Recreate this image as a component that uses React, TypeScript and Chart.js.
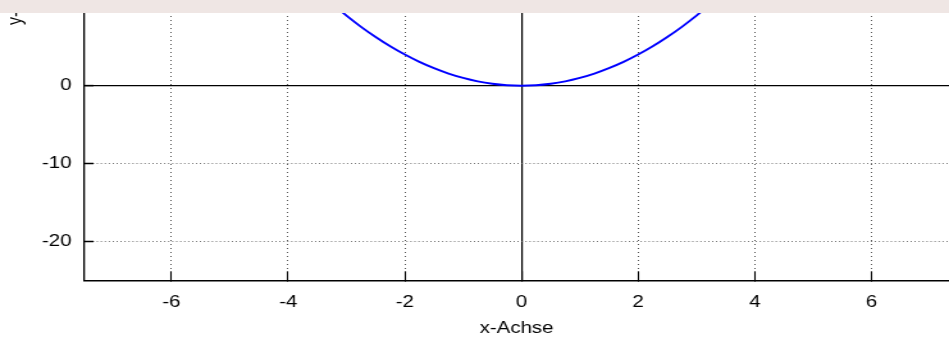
import React, { useEffect, useRef } from 'react';
import { Chart, registerables } from 'chart.js';

Chart.register(...registerables);

// Curve (parabola through the origin)
const xValues = [-4, -3.75, -3.5, -3.25, -3, -2.75, -2.5, -2.25, -2, -1.75, -1.5, -1.25, -1, -0.75, -0.5, -0.25, 0,
  0.25, 0.5, 0.75, 1, 1.25, 1.5, 1.75, 2, 2.25, 2.5, 2.75, 3, 3.25, 3.5, 3.75, 4];
const yValues = [16, 14.06, 12.25, 10.56, 9, 7.56, 6.25, 5.06, 4, 3.06, 2.25, 1.56, 1, 0.56, 0.25, 0.06, 0,
  0.06, 0.25, 0.56, 1, 1.56, 2.25, 3.06, 4, 5.06, 6.25, 7.56, 9, 10.56, 12.25, 14.06, 16];

const xRange = [-7.5, 7.33];
const yRange = [-25, 48];
const xTickStep = 2;
const yTickStep = 10;
const xTitle = 'x-Achse';
const yTitle = 'y-Achse';

const STRETCH = 949 / 741;
const CANVAS_W = 741;
const CANVAS_H = 626;
const CANVAS_TOP = -288;

export default function App() {
  const ref = useRef<HTMLCanvasElement | null>(null);

  useEffect(() => {
    if (!ref.current) return;
    const font = { family: '"Liberation Sans", Arial, sans-serif', size: 16 };
    const gridColor = (c: any) => (c.tick && c.tick.value === 0 ? '#000000' : '#555555');
    const gridWidth = (c: any) => (c.tick && c.tick.value === 0 ? 1.2 : 1);
    const chart = new Chart(ref.current, {
      type: 'line',
      data: {
        datasets: [
          {
            data: xValues.map((x, i) => ({ x, y: yValues[i] })),
            borderColor: '#0000ff',
            borderWidth: 1.9,
            pointRadius: 0,
            fill: false,
            cubicInterpolationMode: 'monotone',
          },
        ],
      },
      options: {
        animation: false,
        responsive: false,
        layout: { padding: 0 },
        plugins: { legend: { display: false }, tooltip: { enabled: false }, title: { display: false } },
        scales: {
          x: {
            type: 'linear',
            min: xRange[0],
            max: xRange[1],
            afterFit: (s: any) => {
              s.height = 57.7;
              s.paddingLeft = 0;
              s.paddingRight = 0;
              s.paddingTop = 0;
              s.paddingBottom = 0;
            },
            ticks: { stepSize: xTickStep, includeBounds: false, color: '#000', font, padding: 21.7, maxRotation: 0 },
            grid: {
              color: gridColor,
              lineWidth: gridWidth,
              tickLength: -9,
              tickColor: '#000',
              tickWidth: 1.1,
              drawTicks: true,
            },
            border: {
              display: true,
              color: '#000',
              width: 1.6,
              dash: (c: any) => (c.tick && c.tick.value !== 0 ? [1, 3] : []),
            },
            title: { display: true, text: xTitle, color: '#000', font, padding: { top: 0, bottom: 0 } },
          },
          y: {
            type: 'linear',
            min: yRange[0],
            max: yRange[1],
            afterFit: (s: any) => {
              s.width = 84 / STRETCH;
              s.paddingLeft = 0;
              s.paddingRight = 0;
              s.paddingTop = 0;
              s.paddingBottom = 0;
            },
            ticks: { stepSize: yTickStep, includeBounds: false, color: '#000', font, padding: 17.3 },
            grid: {
              color: gridColor,
              lineWidth: gridWidth,
              tickLength: -7.5,
              tickColor: '#000',
              tickWidth: 1.5,
              drawTicks: true,
            },
            border: {
              display: true,
              color: '#000',
              width: 1.3,
              dash: (c: any) => (c.tick && c.tick.value !== 0 ? [0.8, 2.3] : []),
            },
            title: { display: true, text: yTitle, color: '#000', font, padding: { top: 2.7, bottom: 0 } },
          },
        },
      },
    });
    return () => chart.destroy();
  }, []);

  return (
    <div
      style={{
        position: 'fixed',
        top: 0,
        left: 0,
        width: 949,
        height: 338,
        overflow: 'hidden',
        background: '#ffffff',
      }}
    >
      <canvas
        ref={ref}
        width={CANVAS_W}
        height={CANVAS_H}
        style={{
          position: 'absolute',
          left: 0,
          top: CANVAS_TOP,
          width: CANVAS_W,
          height: CANVAS_H,
          transform: `scaleX(${STRETCH})`,
          transformOrigin: '0 0',
        }}
      />
      <div
        style={{
          position: 'absolute',
          left: 0,
          top: 0,
          width: 949,
          height: 13,
          background: '#efe6e4',
        }}
      />
    </div>
  );
}
